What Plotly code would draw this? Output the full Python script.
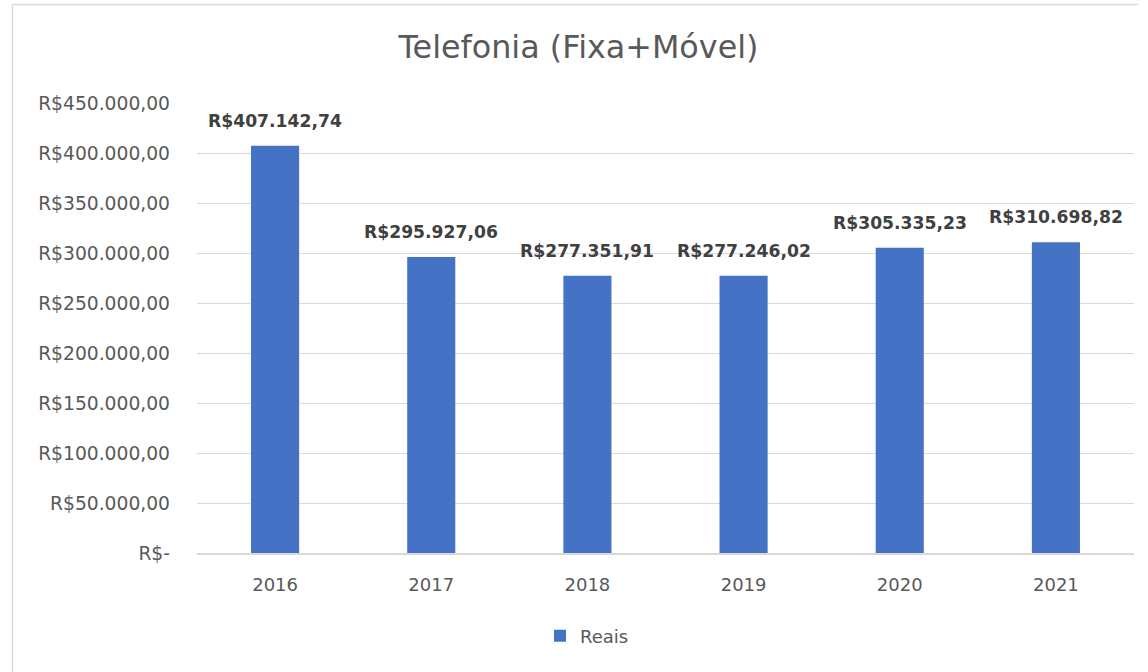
import plotly.graph_objects as go

years = ["2016", "2017", "2018", "2019", "2020", "2021"]
reais = [407142.74, 295927.06, 277351.91, 277246.02, 305335.23, 310698.82]
tick_values = [0, 50000, 100000, 150000, 200000, 250000, 300000, 350000, 400000, 450000]


def brl(v):
    s = f"{v:,.2f}"
    s = s.replace(",", "X").replace(".", ",").replace("X", ".")
    return "R$" + s


tick_text = ["R$-" if v == 0 else brl(v) for v in tick_values]
labels = [brl(v) for v in reais]

FONT = "'DejaVu Sans', sans-serif"
GREY = "#595959"

fig = go.Figure()
fig.add_trace(go.Bar(
    x=years, y=reais, name="Reais",
    marker=dict(color="#4472C4", line=dict(width=0)),
    width=0.308,
))

# data labels above bars (category index positions)
for i, (v, lab) in enumerate(zip(reais, labels)):
    fig.add_annotation(x=i, y=v, xref="x", yref="y", text=lab, showarrow=False,
                       yanchor="middle", yshift=25,
                       font=dict(family=FONT, size=17.2, color="#404040", weight="bold"))

fig.update_layout(
    width=1148, height=672,
    paper_bgcolor="white", plot_bgcolor="white",
    margin=dict(l=197, r=14, t=103, b=119, autoexpand=False),
    title=dict(text="Telefonia (Fixa+Móvel)", x=578.5 / 1148, xanchor="center",
               xref="container", yref="container",
               y=1 - 47 / 672, yanchor="middle",
               font=dict(family=FONT, size=31.8, color=GREY)),
    showlegend=True,
    legend=dict(orientation="h", x=(540 - 197) / 937, xanchor="left",
                y=(553 - 636) / 450, yanchor="middle", bgcolor="rgba(0,0,0,0)",
                font=dict(family=FONT, size=18, color=GREY)),
    yaxis=dict(range=[0, 450000], tickvals=tick_values, ticktext=tick_text,
               showgrid=True, gridcolor="#D9D9D9", gridwidth=1.3, zeroline=False,
               showline=False, ticks="", ticklabelstandoff=26, automargin=False,
               tickfont=dict(family=FONT, size=18.7, color=GREY)),
    xaxis=dict(type="category", categoryorder="array", categoryarray=years,
               range=[-0.5, len(years) - 0.5],
               showgrid=False, showline=True, linecolor="#D9D9D9",
               linewidth=2, ticks="", ticklabelstandoff=14, automargin=False,
               tickfont=dict(family=FONT, size=18, color=GREY)),
)

# outer chart border (left and top edges visible)
fig.add_shape(type="line", xref="paper", yref="paper",
              x0=(12.5 - 197) / 937, x1=(12.5 - 197) / 937, y0=-0.5, y1=(553 - 4.5) / 450,
              line=dict(color="#D9D9D9", width=1.5))
fig.add_shape(type="line", xref="paper", yref="paper",
              x0=(12.5 - 197) / 937, x1=(1138 - 197) / 937,
              y0=(553 - 4.5) / 450, y1=(553 - 4.5) / 450,
              line=dict(color="#D9D9D9", width=1.5))

fig.write_html("out.html", config={"displayModeBar": False},
               post_script="document.body.style.margin='0';")
